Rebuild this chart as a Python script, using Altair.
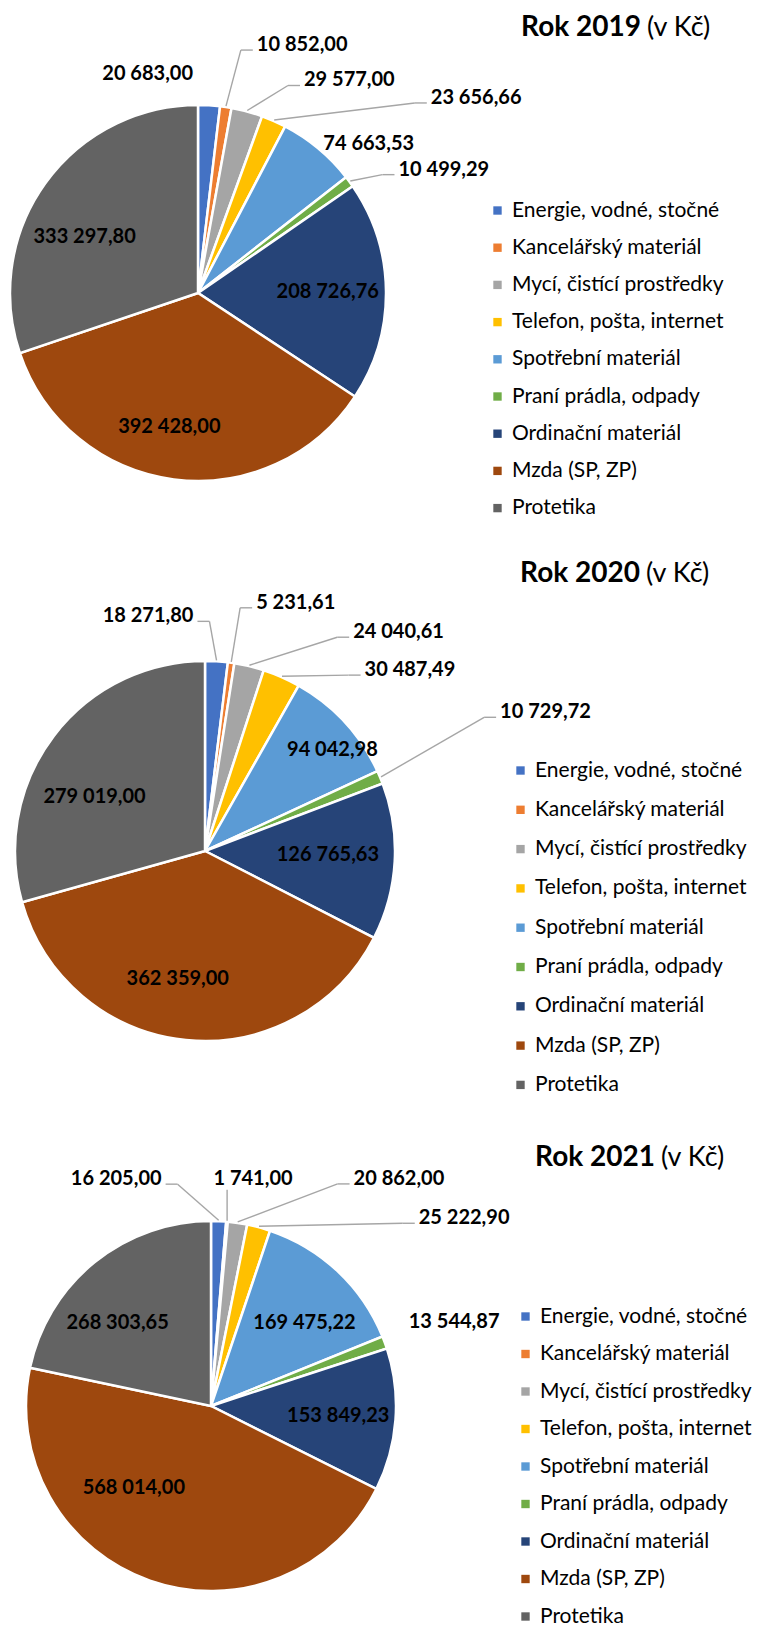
import math
import altair as alt
import pandas as pd

# ---------------- data ----------------
categories = [
    "Energie, vodné, stočné",
    "Kancelářský materiál",
    "Mycí, čistící prostředky",
    "Telefon, pošta, internet",
    "Spotřební materiál",
    "Praní prádla, odpady",
    "Ordinační materiál",
    "Mzda (SP, ZP)",
    "Protetika",
]
years = ["2019", "2020", "2021"]
values_2019 = [20683.00, 10852.00, 29577.00, 23656.66, 74663.53, 10499.29, 208726.76, 392428.00, 333297.80]
values_2020 = [18271.80, 5231.61, 24040.61, 30487.49, 94042.98, 10729.72, 126765.63, 362359.00, 279019.00]
values_2021 = [16205.00, 1741.00, 20862.00, 25222.90, 169475.22, 13544.87, 153849.23, 568014.00, 268303.65]

# ---------------- style / layout ----------------
colors = ["#4472C4", "#ED7D31", "#A5A5A5", "#FFC000", "#5B9BD5",
          "#70AD47", "#264478", "#9E480E", "#636363"]
FONT = "Lato"
O = 8                      # page margin
W, H = 744, 1623           # plot area

# label placement (like dragged Excel labels):
#   out: mode, dx, dy from the slice edge; inn: dx, dy nudge from 0.69 r
layout = {
    "2019": dict(values=values_2019, cx=198, cy=293, r=188, tx=641, ty=36,
                 lx=487, ly=212, lgap=36.2,
                 out={0: ("L", -12, -26), 1: ("R", 27, -57), 2: ("R", 53, -26),
                      3: ("R", 153, -18), 4: ("R", 1, 0), 5: ("R", 45, -7)},
                 inn={7: (-12, 5), 8: (-8, 20)}),
    "2020": dict(values=values_2020, cx=205, cy=851, r=190, tx=640, ty=582,
                 lx=510, ly=772, lgap=38.3,
                 out={0: ("L", -19, -40), 1: ("R", 21, -55), 2: ("R", 100, -29),
                      3: ("R", 79, -2), 5: ("R", 116, -60)},
                 inn={4: (31, -12), 6: (-8, -3), 7: (-14, -2), 8: (-6, 25)}),
    "2021": dict(values=values_2021, cx=211, cy=1406, r=185, tx=655, ty=1166,
                 lx=515, ly=1318, lgap=36.5,
                 out={0: ("L", -53, -37), 1: ("T", 26, -43), 2: ("R", 112, -39),
                      3: ("R", 156, -4), 5: ("R", 20, -15)},
                 inn={4: (6, 10), 7: (-35, -38), 8: (-13, 16)}),
}


def fmt(v):
    s = f"{v:,.2f}"
    return s.replace(",", " ").replace(".", ",")


xs = alt.Scale(domain=[0, W], nice=False, zero=False)
ys = alt.Scale(domain=[0, H], nice=False, zero=False, reverse=True)

layers = []
text_rows, rule_rows, title_rows = [], [], []

for yr in years:
    L = layout[yr]
    vals = L["values"]
    cx, cy, r = L["cx"] - O, L["cy"] - O, L["r"]
    df = pd.DataFrame({"cat": categories, "value": vals, "idx": list(range(len(vals)))})
    arc = alt.Chart(df).mark_arc(outerRadius=r, stroke="white", strokeWidth=2.5).encode(
        theta=alt.Theta("value:Q", stack=True),
        color=alt.Color(
            "cat:N",
            scale=alt.Scale(domain=categories, range=colors),
            legend=alt.Legend(
                title=None, orient="none", direction="vertical",
                legendX=L["lx"] - O, legendY=L["ly"] - O - 12, padding=0,
                symbolType="square", symbolSize=70, symbolStrokeWidth=0,
                labelFont=FONT, labelFontSize=21, labelColor="#000000",
                labelOffset=4, labelLimit=400, rowPadding=L["lgap"] - 21,
            ),
        ),
        order=alt.Order("idx:Q"),
        x=alt.value(cx),
        y=alt.value(cy),
    )
    layers.append(arc)

    total = sum(vals)
    cum = 0.0
    for i, v in enumerate(vals):
        mid = (cum + v / 2) / total * 2 * math.pi
        cum += v
        s, c = math.sin(mid), math.cos(mid)
        ax, ay = cx + r * s, cy - r * c
        label = fmt(v)
        if i in L["out"]:
            mode, dx, dy = L["out"][i]
            sx, sy = cx + (r + 1) * s, cy - (r + 1) * c
            if mode == "T":
                tx, ty = ax + dx, ay + dy
                text_rows.append(dict(x=tx, y=ty, label=label, al="center"))
                rule_rows.append(dict(x=sx, y=sy, x2=sx, y2=ty + 11))
                continue
            atx, aty = ax + dx, ay + dy
            if mode == "R":
                text_rows.append(dict(x=atx + 4, y=aty - 5, label=label, al="left"))
                ex = atx - 12
            else:
                text_rows.append(dict(x=atx - 4, y=aty - 5, label=label, al="right"))
                ex = atx + 12
            if math.hypot(atx - ax, aty - ay) > 30:
                rule_rows.append(dict(x=sx, y=sy, x2=ex, y2=aty))
                rule_rows.append(dict(x=ex, y=aty, x2=atx, y2=aty))
        else:
            ndx, ndy = L["inn"].get(i, (0, 0))
            text_rows.append(dict(x=cx + 0.69 * r * s + ndx, y=cy - 0.69 * r * c + ndy,
                                  label=label, al="center"))

    title_rows.append(dict(x=L["tx"] - O, y=L["ty"] - O, t=f"Rok {yr}", w="bold"))
    title_rows.append(dict(x=L["tx"] - O + 6, y=L["ty"] - O, t="(v Kč)", w="normal"))

tdf = pd.DataFrame(text_rows)
rdf = pd.DataFrame(rule_rows)
ttl = pd.DataFrame(title_rows)

rules = alt.Chart(rdf).mark_rule(color="#A6A6A6", strokeWidth=1.4).encode(
    x=alt.X("x:Q", scale=xs, axis=None), y=alt.Y("y:Q", scale=ys, axis=None),
    x2="x2:Q", y2="y2:Q")
layers.append(rules)

for al in ["left", "right", "center"]:
    layers.append(
        alt.Chart(tdf).transform_filter(alt.datum.al == al)
        .mark_text(align=al, baseline="middle", font=FONT, fontWeight="bold",
                   fontSize=20, color="#000000")
        .encode(x=alt.X("x:Q", scale=xs, axis=None), y=alt.Y("y:Q", scale=ys, axis=None),
                text="label:N")
    )

layers.append(
    alt.Chart(ttl).transform_filter(alt.datum.w == "bold")
    .mark_text(align="right", baseline="alphabetic", font=FONT, fontWeight="bold",
               fontSize=28, color="#000000")
    .encode(x=alt.X("x:Q", scale=xs, axis=None), y=alt.Y("y:Q", scale=ys, axis=None), text="t:N")
)
layers.append(
    alt.Chart(ttl).transform_filter(alt.datum.w == "normal")
    .mark_text(align="left", baseline="alphabetic", font=FONT, fontWeight="normal",
               fontSize=27, color="#000000")
    .encode(x=alt.X("x:Q", scale=xs, axis=None), y=alt.Y("y:Q", scale=ys, axis=None), text="t:N")
)

chart = (
    alt.layer(*layers)
    .resolve_scale(theta="independent", color="independent")
    .properties(width=W, height=H, background="white", padding=0,
                autosize=alt.AutoSizeParams(type="none"))
    .configure_view(stroke=None)
)

chart.save("out.html", embed_options={"renderer": "svg", "actions": False})
